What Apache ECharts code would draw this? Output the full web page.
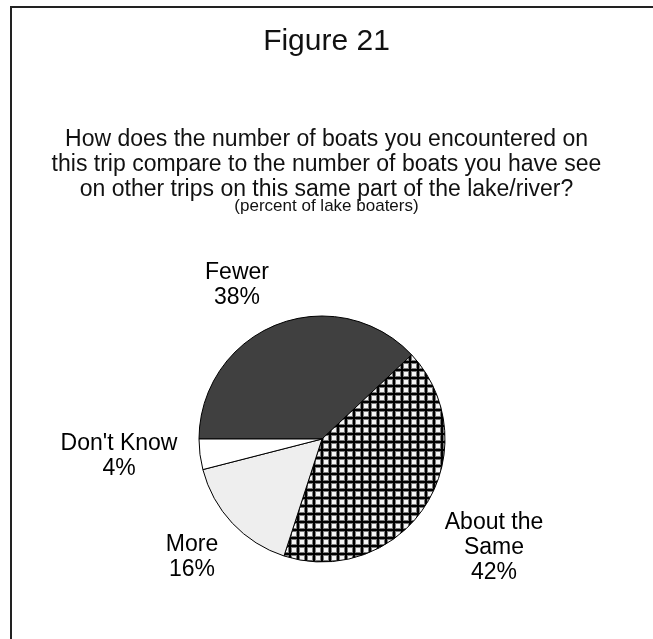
<!DOCTYPE html>
<html>
<head>
<meta charset="utf-8">
<script src="https://cdn.jsdelivr.net/npm/echarts@6/dist/echarts.min.js"></script>
<style>
  html, body { margin: 0; padding: 0; background: #fff; }
  #chart { width: 653px; height: 639px; }
</style>
</head>
<body>
<div id="chart"></div>
<script>
// Survey answers (percent of lake boaters)
const categories = ['Fewer', 'About the Same', 'More', "Don't Know"];
const labelText = ['Fewer', 'About the\nSame', 'More', "Don't\u00a0Know"];
const percents = [38, 42, 16, 4];

// Question text, one entry per line
const questionLines = [
  'How does the number of boats you encountered on',
  'this trip compare to the number of boats you have see',
  'on other trips on this same part of the lake/river?'
];

// Label anchor points (text centre) for each slice
const labelPos = [[237, 285], [494, 548], [192, 557], [119, 456]];

const FONT = 'Liberation Sans, Arial, sans-serif';

// Cross-hatch tile used for the "About the Same" slice
function hatchTile() {
  const c = document.createElement('canvas');
  c.width = 8; c.height = 8;
  const g = c.getContext('2d');
  g.fillStyle = '#ffffff';
  g.fillRect(0, 0, 8, 8);
  g.fillStyle = '#7a7a7a';
  g.fillRect(0, 0, 4, 8);
  g.fillRect(0, 0, 8, 4);
  g.fillStyle = '#000000';
  g.fillRect(1, 0, 2, 8);
  g.fillRect(0, 1, 8, 2);
  g.fillStyle = '#f4f4f4';
  g.fillRect(4, 4, 4, 4);
  return c;
}

const fills = [
  '#404040',
  { image: hatchTile(), repeat: 'repeat' },
  '#eeeeee',
  '#ffffff'
];

const titles = [
  {
    text: 'Figure 21',
    left: 'center',
    top: 27,
    padding: 0,
    textStyle: { fontSize: 30, fontWeight: 'normal', color: '#111', fontFamily: FONT }
  }
];
questionLines.forEach((line, i) => {
  titles.push({
    text: line,
    left: 'center',
    top: 128 + i * 25,
    padding: 0,
    textStyle: { fontSize: 23, fontWeight: 'normal', color: '#111', fontFamily: FONT }
  });
});
titles.push({
  text: '(percent of lake boaters)',
  left: 'center',
  top: 198,
  padding: 0,
  textStyle: { fontSize: 17, fontWeight: 'normal', color: '#111', fontFamily: FONT }
});

const chart = echarts.init(document.getElementById('chart'), null, { renderer: 'canvas' });

chart.setOption({
  backgroundColor: '#ffffff',
  animation: false,
  textStyle: { fontFamily: FONT },
  title: titles,
  graphic: [
    { type: 'line', shape: { x1: 10, y1: 7, x2: 653, y2: 7 }, style: { stroke: '#222', lineWidth: 2 } },
    { type: 'line', shape: { x1: 11, y1: 6, x2: 11, y2: 639 }, style: { stroke: '#222', lineWidth: 2 } }
  ],
  series: [
    {
      type: 'pie',
      center: [322, 439],
      radius: 123,
      startAngle: 180,
      clockwise: true,
      avoidLabelOverlap: false,
      itemStyle: { borderColor: '#000', borderWidth: 1 },
      label: {
        show: true,
        position: 'outside',
        fontSize: 23,
        lineHeight: 25,
        color: '#000',
        align: 'center',
        fontFamily: FONT,
        formatter: p => labelText[p.dataIndex] + '\n' + p.value + '%'
      },
      labelLine: { show: false },
      labelLayout: p => ({
        x: labelPos[p.dataIndex][0],
        y: labelPos[p.dataIndex][1],
        align: 'center',
        verticalAlign: 'middle'
      }),
      emphasis: { disabled: true },
      data: categories.map((name, i) => ({
        name: name,
        value: percents[i],
        itemStyle: { color: fills[i] }
      }))
    }
  ]
});
</script>
</body>
</html>
